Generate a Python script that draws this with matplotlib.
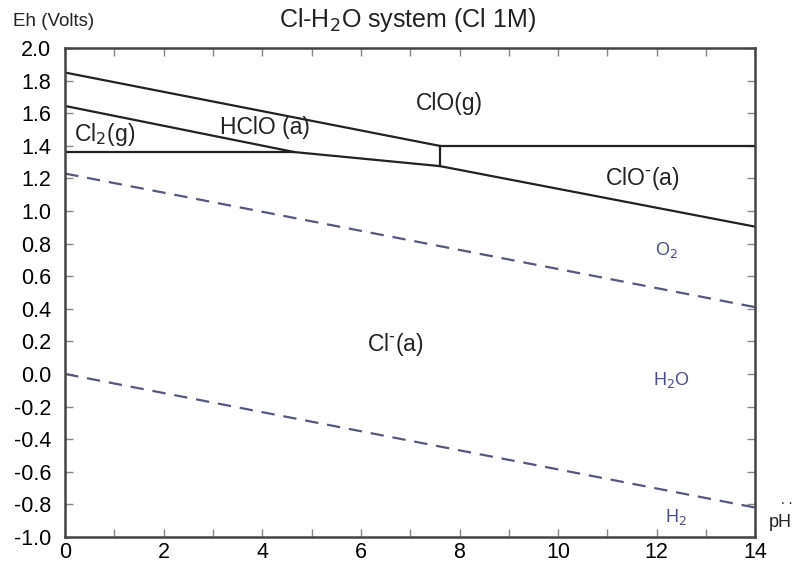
import matplotlib
matplotlib.use("Agg")
import matplotlib.pyplot as plt
from matplotlib.ticker import MultipleLocator

plt.rcParams["font.family"] = ["Liberation Sans", "DejaVu Sans"]

# boundary lines (pH, Eh)
clo_g_ph = [0, 7.6]
clo_g_eh = [1.85, 1.40]
clo_g_flat_ph = [7.6, 14]
clo_g_flat_eh = [1.40, 1.40]
hclo_ph = [0, 4.65, 7.6, 14]
hclo_eh = [1.645, 1.362, 1.276, 0.904]
cl2_ph = [0, 4.65]
cl2_eh = [1.362, 1.362]
vert_ph = [7.6, 7.6]
vert_eh = [1.276, 1.40]

# water stability lines
o2_ph = [0, 14]
o2_eh = [1.23, 0.41]
h2_ph = [0, 14]
h2_eh = [0.0, -0.82]

# species labels
species = ["Cl$_2$(g)", "HClO (a)", "ClO(g)", r"ClO$^{\text{-}}$(a)", r"Cl$^{\text{-}}$(a)"]
species_ph = [0.8, 4.05, 7.8, 11.7, 6.7]
species_eh = [1.47, 1.51, 1.66, 1.20, 0.18]
water = ["O$_2$", "H$_2$O", "H$_2$"]
water_ph = [12.2, 12.3, 12.4]
water_eh = [0.76, -0.04, -0.88]

fig = plt.figure(figsize=(7.95, 5.73), dpi=100)
ax = fig.add_axes([0.082, 0.063, 0.868, 0.853])

line_kw = dict(color="#222222", lw=1.6)
ax.plot(clo_g_ph, clo_g_eh, **line_kw)
ax.plot(clo_g_flat_ph, clo_g_flat_eh, **line_kw)
ax.plot(hclo_ph, hclo_eh, **line_kw)
ax.plot(cl2_ph, cl2_eh, **line_kw)
ax.plot(vert_ph, vert_eh, **line_kw)

dash_kw = dict(color="#55577f", lw=1.6, dashes=(6, 4))
ax.plot(o2_ph, o2_eh, **dash_kw)
ax.plot(h2_ph, h2_eh, **dash_kw)

for s, x, y in zip(species, species_ph, species_eh):
    ax.text(x, y, s, ha="center", va="center", fontsize=16.5, color="#222222")
for s, x, y in zip(water, water_ph, water_eh):
    ax.text(x, y, s, ha="center", va="center", fontsize=13, color="#4a4c8c")

ax.set_xlim(0, 14)
ax.set_ylim(-1.0, 2.0)
ax.xaxis.set_major_locator(MultipleLocator(2))
ax.xaxis.set_minor_locator(MultipleLocator(1))
ax.yaxis.set_major_locator(MultipleLocator(0.2))
ax.yaxis.set_major_formatter(plt.FuncFormatter(lambda v, p: f"{v:.1f}"))
ax.tick_params(which="both", direction="in", top=True, right=True,
               length=6, width=1, color="#888888", labelsize=15.5, pad=10)
ax.tick_params(which="major", axis="x", pad=4)
for sp in ax.spines.values():
    sp.set_linewidth(1.8)
    sp.set_color("#444444")

fig.text(0.016, 0.963, "Eh (Volts)", fontsize=13.5, ha="left", va="center", color="#222222")
fig.text(0.512, 0.965, "Cl-H$_2$O system (Cl 1M)", fontsize=18, ha="center", va="center", color="#222222")
fig.text(0.982, 0.089, "pH", fontsize=13, ha="center", va="center", color="#222222")
fig.text(0.99, 0.128, ". .", fontsize=10, ha="center", va="center", color="#222222")

fig.savefig("out.png", dpi=100)
